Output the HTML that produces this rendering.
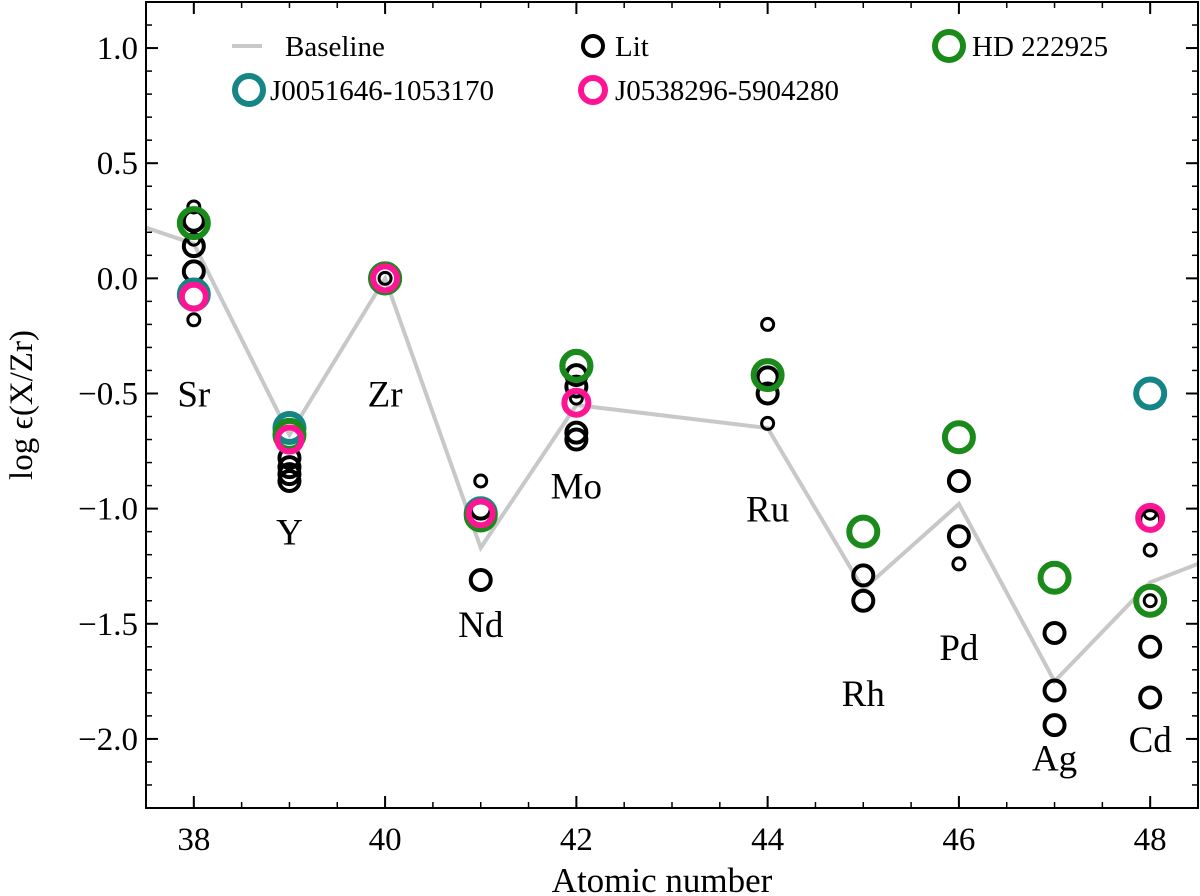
<!DOCTYPE html>
<html><head><meta charset="utf-8"><style>
body{margin:0;background:#fff}
svg{display:block;font-family:"Liberation Serif",serif}
</style></head><body>
<svg id="c" width="1200" height="896"></svg>
<script>
const baseX=[37.5,38,39,40,41,42,44,45,46,47,48,48.5];
const baseY=[0.22,0.15,-0.68,0.0,-1.17,-0.55,-0.65,-1.35,-0.98,-1.75,-1.32,-1.24];
const litZ=[38,38,38,38,38,38,39,39,39,39,40,41,41,41,42,42,42,42,42,44,44,44,44,45,45,46,46,46,47,47,47,48,48,48,48,48,48];
const litY=[0.31,0.25,0.17,0.14,0.03,-0.18,-0.78,-0.82,-0.85,-0.88,0.0,-0.88,-1.0,-1.31,-0.42,-0.47,-0.52,-0.67,-0.70,-0.2,-0.43,-0.5,-0.63,-1.29,-1.4,-0.88,-1.12,-1.24,-1.54,-1.79,-1.94,-1.02,-1.05,-1.18,-1.4,-1.6,-1.82];
const litBig=[0,1,0,1,1,0,1,1,1,1,0,0,1,1,1,1,0,1,1,0,1,1,0,1,1,1,1,0,1,1,1,0,1,0,0,1,1];
const tealZ=[38,39,40,41,42,48];const tealY=[-0.07,-0.65,0.0,-1.02,-0.38,-0.5];
const greenZ=[38,39,40,41,42,44,45,46,47,48];const greenY=[0.24,-0.68,0.0,-1.03,-0.38,-0.42,-1.1,-0.69,-1.3,-1.4];
const pinkZ=[38,39,40,41,42,48];const pinkY=[-0.08,-0.70,0.0,-1.02,-0.54,-1.04];
const elNames=["Sr","Y","Zr","Nd","Mo","Ru","Rh","Pd","Ag","Cd"];
const elZ=[38,39,40,41,42,44,45,46,47,48];
const elY=[-0.5,-1.1,-0.5,-1.5,-0.9,-1.0,-1.8,-1.6,-2.08,-2.0];
const xTicks=[38,40,42,44,46,48];
const yTicks=[1.0,0.5,0.0,-0.5,-1.0,-1.5,-2.0];
const yTickLabels=["1.0","0.5","0.0","\u22120.5","\u22121.0","\u22121.5","\u22122.0"];

const L=146,R=1198,T=2,B=808,X0=37.5,X1=48.5,Y0=-2.3,Y1=1.2;
const sx=v=>L+(v-X0)/(X1-X0)*(R-L), sy=v=>B-(v-Y0)/(Y1-Y0)*(B-T);
const svg=document.getElementById('c'),NS="http://www.w3.org/2000/svg";
function mk(t,a,p){const e=document.createElementNS(NS,t);for(const k in a)e.setAttribute(k,a[k]);(p||svg).appendChild(e);return e;}
let g=mk('g',{'clip-path':'url(#cl)'});
const cp=mk('clipPath',{id:'cl'});mk('rect',{x:L,y:T,width:R-L,height:B-T},cp);
let pts=baseX.map((v,i)=>sx(v)+','+sy(baseY[i])).join(' ');
let bl=mk('polyline',{points:pts,fill:'none',stroke:'#c8c8c8','stroke-width':4},g);


litZ.forEach((z,i)=>{const c=mk('circle',{cx:sx(z),cy:sy(litY[i]),r:litBig[i]?10:6,fill:'none',stroke:'#000','stroke-width':litBig[i]?4:3},g);

});
tealZ.forEach((z,i)=>{const c=mk('circle',{cx:sx(z),cy:sy(tealY[i]),r:14,fill:'none',stroke:'#168585','stroke-width':6},g);

});
greenZ.forEach((z,i)=>{const c=mk('circle',{cx:sx(z),cy:sy(greenY[i]),r:14,fill:'none',stroke:'#1a8a1a','stroke-width':6},g);

});
pinkZ.forEach((z,i)=>{const c=mk('circle',{cx:sx(z),cy:sy(pinkY[i]),r:12,fill:'none',stroke:'#ff1493','stroke-width':6},g);

});
elNames.forEach((n,i)=>{const t=mk('text',{x:sx(elZ[i]),y:sy(elY[i])+13,'font-size':37,'text-anchor':'middle'});t.textContent=n;

});
mk('rect',{x:L,y:T,width:R-L,height:B-T,fill:'none',stroke:'#000','stroke-width':2});
xTicks.forEach(v=>{mk('line',{x1:sx(v),x2:sx(v),y1:B,y2:B-12,stroke:'#000','stroke-width':2});mk('line',{x1:sx(v),x2:sx(v),y1:T,y2:T+12,stroke:'#000','stroke-width':2});
const t=mk('text',{x:sx(v),y:B+42,'font-size':33,'text-anchor':'middle'});t.textContent=v;

});
for(let v=37.5;v<=48.5;v+=0.5){mk('line',{x1:sx(v),x2:sx(v),y1:B,y2:B-6,stroke:'#000','stroke-width':1.5});mk('line',{x1:sx(v),x2:sx(v),y1:T,y2:T+6,stroke:'#000','stroke-width':1.5});}
yTicks.forEach((v,i)=>{mk('line',{x1:L,x2:L+12,y1:sy(v),y2:sy(v),stroke:'#000','stroke-width':2});mk('line',{x1:R,x2:R-12,y1:sy(v),y2:sy(v),stroke:'#000','stroke-width':2});
const t=mk('text',{x:L-8,y:sy(v)+11,'font-size':33,'text-anchor':'end'});t.textContent=yTickLabels[i];

});
for(let v=-2.3;v<=1.2;v+=0.1){mk('line',{x1:L,x2:L+6,y1:sy(v),y2:sy(v),stroke:'#000','stroke-width':1.5});mk('line',{x1:R,x2:R-6,y1:sy(v),y2:sy(v),stroke:'#000','stroke-width':1.5});}
let xl=mk('text',{x:(L+R)/2-10,y:892,'font-size':35,'text-anchor':'middle'});xl.textContent='Atomic number';


let yl=mk('text',{x:0,y:0,'font-size':33,'text-anchor':'middle',transform:'translate(32,405) rotate(-90)'});yl.textContent='log \u03F5(X/Zr)';


let lg=mk('g',{});
mk('line',{x1:232,x2:262,y1:46,y2:46,stroke:'#c8c8c8','stroke-width':4},lg);
const items=[[285,46,'Baseline'],[615,46,'Lit'],[972,46,'HD 222925'],[270,90,'J0051646-1053170'],[615,90,'J0538296-5904280']];
mk('circle',{cx:593,cy:46,r:10,fill:'none',stroke:'#000','stroke-width':4},lg);
mk('circle',{cx:949,cy:46,r:14,fill:'none',stroke:'#1a8a1a','stroke-width':6},lg);
mk('circle',{cx:249,cy:90,r:14,fill:'none',stroke:'#168585','stroke-width':6},lg);
mk('circle',{cx:593,cy:90,r:12,fill:'none',stroke:'#ff1493','stroke-width':6},lg);
items.forEach(it=>{const t=mk('text',{x:it[0],y:it[1]+10,'font-size':29},lg);t.textContent=it[2];

});
</script></body></html>
